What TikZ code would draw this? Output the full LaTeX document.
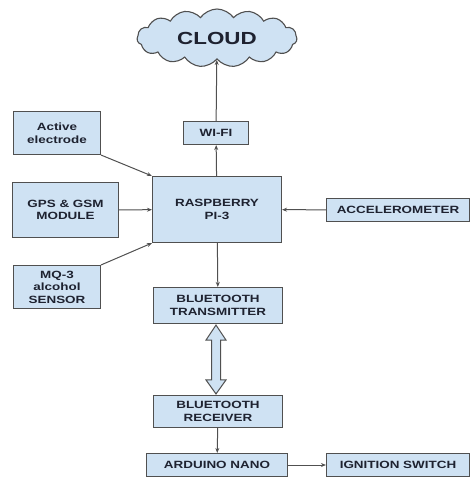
\documentclass[tikz,border=0pt]{standalone}
\usepackage{fontspec}
\setmainfont{Liberation Sans}[FakeStretch=1.28]
\usetikzlibrary{shapes.symbols,arrows.meta,calc}
\definecolor{boxfill}{HTML}{CFE2F3}
\definecolor{boxline}{HTML}{505050}
\definecolor{boxtext}{HTML}{1E2230}

\begin{document}
\begin{tikzpicture}[x=1pt, y=-1pt, >={Stealth[length=5pt,width=4pt]},
      every node/.append style={font=\fontsize{10.5}{12.5}\selectfont\bfseries,text=boxtext,align=center}]
    \tikzstyle{block} = [draw=boxline,fill=boxfill,line width=1.1pt,inner sep=0pt]
    \tikzstyle{link} = [->,draw=boxline,line width=1pt]
    \tikzstyle{bigarrow} = [draw=boxline,fill=boxfill,line width=1pt,line join=miter]
    \useasboundingbox (0,0) rectangle (471,477);
    \node (cloud) [block,cloud,cloud puffs=15,cloud puff arc=110,aspect=2.7,
      minimum width=160pt,minimum height=58pt,font=\fontsize{17.5}{20}\selectfont\bfseries] at (217,38) {CLOUD};
    \node (wifi) [block,minimum width=65pt,minimum height=23pt] at (216,133) {WI-FI};
    \node (active) [block,minimum width=87pt,minimum height=43pt] at (57,133) {Active\\electrode};
    \node (gps) [block,minimum width=106pt,minimum height=55pt] at (65.5,210) {GPS \& GSM\\MODULE};
    \node (rasp) [block,minimum width=129pt,minimum height=66pt] at (217,209.5) {RASPBERRY\\PI-3};
    \node (mq3) [block,minimum width=87pt,minimum height=43pt] at (57,287) {MQ-3\\alcohol\\SENSOR};
    \node (accel) [block,minimum width=143pt,minimum height=23pt] at (398,210) {ACCELEROMETER};
    \node (bttx) [block,minimum width=129pt,minimum height=36pt] at (218,305.5) {BLUETOOTH\\TRANSMITTER};
    \node (btrx) [block,minimum width=129pt,minimum height=32pt] at (218,411.5) {BLUETOOTH\\RECEIVER};
    \node (nano) [block,minimum width=141pt,minimum height=23pt] at (217,465) {ARDUINO NANO};
    \node (ignition) [block,minimum width=143pt,minimum height=23pt] at (398,465) {IGNITION SWITCH};
    % inputs
    \draw[link] (active.south east) -- (rasp.north west);
    \draw[link] (gps) -- (rasp);
    \draw[link] (mq3.north east) -- (rasp.south west);
    \draw[link] (accel) -- (rasp);
    % outputs
    \draw[link] (rasp) -- (wifi);
    \draw[link] (wifi) -- (cloud);
    \draw[link] (rasp) -- (bttx);
    % hollow two-way arrow between the bluetooth boxes
    \draw[bigarrow] ($(bttx.south)+(-2,1)$) -- ++(10,15) -- ++(-5.5,0)
      -- ($(btrx.north)+(2.5,-15)$) -- ++(5.5,0) -- ($(btrx.north)+(-2,-1)$)
      -- ++(-10,-14) -- ++(5.5,0) -- ($(bttx.south)+(-6.5,16)$) -- ++(-5.5,0) -- cycle;
    \draw[link] (btrx) -- (nano);
    \draw[link] (nano) -- (ignition);
\end{tikzpicture}
\end{document}
